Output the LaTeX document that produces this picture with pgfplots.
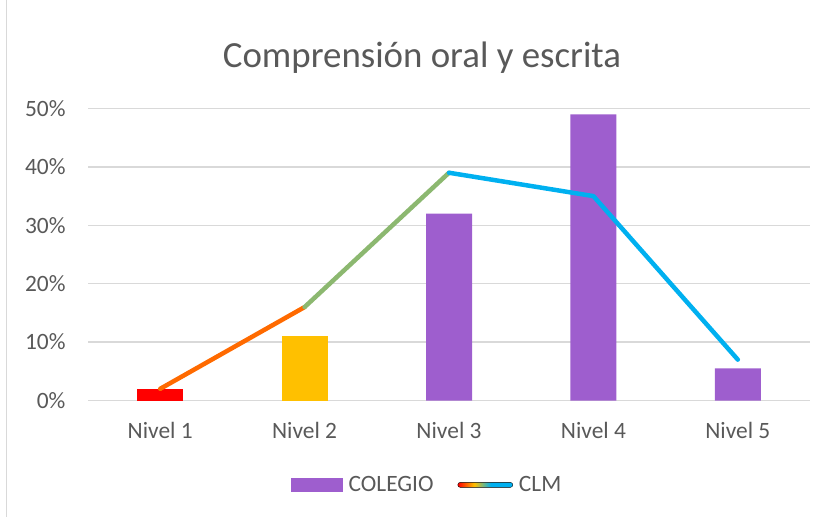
\documentclass[border=0pt]{standalone}
\usepackage{pgfplots}
\pgfplotsset{compat=1.18}
\usepackage{fontspec}
\setmainfont{Carlito}
\definecolor{colegio}{HTML}{9E5ECE}
\definecolor{amarillo}{HTML}{FFC000}
\definecolor{rojo}{HTML}{FF0000}
\definecolor{clm}{HTML}{00B0F0}
\definecolor{clmA}{HTML}{FF6A00}
\definecolor{clmB}{HTML}{8CB870}
\definecolor{txt}{HTML}{595959}
\definecolor{rejilla}{HTML}{D9D9D9}
\pgfdeclarehorizontalshading{clmshade}{100bp}{color(0bp)=(rojo); color(25bp)=(rojo); color(40bp)=(amarillo); color(55bp)=(clm); color(100bp)=(clm)}

\begin{document}
\begin{tikzpicture}
\path[use as bounding box] (0,0) rectangle (827bp,517bp);
\draw[rejilla, line width=1bp] (6.5bp,0) -- (6.5bp,517bp);
\begin{axis}[
	at={(88bp,116.5bp)}, anchor=south west,
	scale only axis,
	width=722bp, height=292bp,
	xmin=-0.5, xmax=4.5,
	ymin=0, ymax=50,
	xtick={0,1,2,3,4},
	xticklabels={Nivel 1,Nivel 2,Nivel 3,Nivel 4,Nivel 5},
	ytick={0,10,20,30,40,50},
	yticklabel={\pgfmathprintnumber{\tick}\%},
	/pgf/number format/assume math mode=true,
	axis line style={draw=none},
	major tick length=0pt,
	ymajorgrids,
	grid style={rejilla, line width=1.3bp},
	ticklabel style={font=\fontsize{23.5}{28}\selectfont, text=txt},
	yticklabel style={xshift=-19bp},
	xticklabel style={yshift=-18bp},
	title={Comprensión oral y escrita},
	title style={at={(axis description cs:0.4626,1.155)}, anchor=center,
		font=\fontsize{37}{42}\selectfont, text=txt},
	legend columns=2,
	legend style={at={(axis description cs:0.4695,-0.289)}, anchor=center,
		draw=none, fill=none, font=\fontsize{23.5}{28}\selectfont, text=txt,
		/tikz/every odd column/.append style={column sep=4bp},
		/tikz/every even column/.append style={column sep=22bp}},
]
% barras COLEGIO
\addplot[ybar, bar width=46bp, bar shift=0pt, fill=rojo, draw=none, forget plot]
	coordinates {(0,2)};
\addplot[ybar, bar width=46bp, bar shift=0pt, fill=amarillo, draw=none, forget plot]
	coordinates {(1,11)};
\addplot[ybar, bar width=46bp, bar shift=0pt, fill=colegio, draw=none,
	legend image code/.code={\fill[colegio] (0bp,-7bp) rectangle (52bp,7bp);}]
	coordinates {(2,32) (3,49) (4,5.5)};
\addlegendentry{COLEGIO}
% linea CLM, por tramos
\addplot[clmA, line width=4.5bp, line cap=round, forget plot] coordinates {(0,2) (1,16)};
\addplot[clmB, line width=4.5bp, line cap=round, forget plot] coordinates {(1,16) (2,39)};
\addplot[clm, line width=4.5bp, line cap=round, line join=round, forget plot]
	coordinates {(2,39) (3,35) (4,7)};
\addlegendimage{legend image code/.code={\shade[shading=clmshade, rounded corners=2.5bp] (0bp,-2.5bp) rectangle (55bp,2.5bp);}}
\addlegendentry{CLM}
\end{axis}
\end{tikzpicture}
\end{document}
